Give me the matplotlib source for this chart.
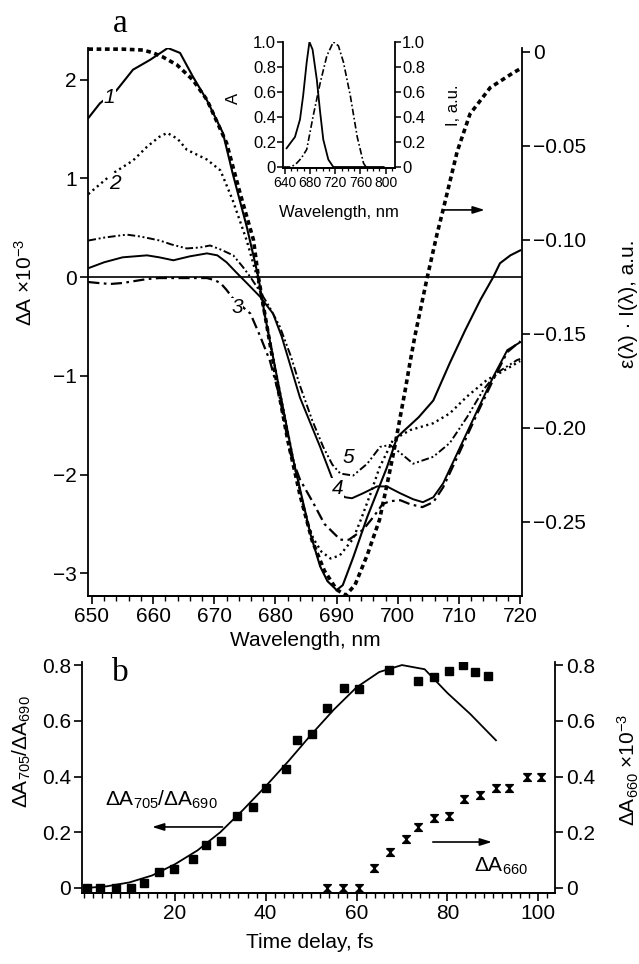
import matplotlib
matplotlib.use("Agg")
import matplotlib.pyplot as plt  # noqa: E402
from matplotlib.ticker import MultipleLocator, FixedLocator, FuncFormatter  # noqa: E402

W, H = 639, 964

# ──────────────── panel a: ΔA spectra (×10^-3), curves 1..5 ────────────────
WL1 = [649.4, 651.3, 654, 656.7, 659.5, 662.4, 664.4, 666.5, 668.8, 671.4, 673, 675.3,
       677.2, 678.3, 680.2, 682.9, 685.7, 687.3, 688.5, 690, 691, 692.7, 695, 698.2,
       699.9, 703.4, 705.8, 708.5, 711, 713.5, 715.6, 716.7, 718.4, 720]
DA1 = [1.61, 1.76, 1.89, 2.1, 2.2, 2.32, 2.27, 2.03, 1.79, 1.46, 1.05, 0.51,
       0, -0.4, -1.0, -1.85, -2.6, -2.93, -3.08, -3.17, -3.12, -2.84, -2.43, -1.93,
       -1.62, -1.42, -1.25, -0.87, -0.54, -0.23, 0, 0.14, 0.22, 0.27]

WL2 = [649.4, 651.5, 653.4, 656.7, 659, 661, 662.3, 664, 665.5, 668.8, 671, 673, 675.3,
       677, 678.3, 680.2, 682.9, 685, 686.2, 687.5, 689, 690.5, 692.7, 694, 695.5, 697,
       699.2, 702, 705.8, 708.5, 711.3, 714.6, 716.7, 720]
DA2 = [0.84, 0.95, 1.05, 1.18, 1.32, 1.42, 1.46, 1.4, 1.29, 1.19, 1.08, 0.78, 0.37,
       0, -0.4, -1.0, -1.85, -2.45, -2.65, -2.78, -2.85, -2.82, -2.65, -2.45, -2.2, -1.93,
       -1.65, -1.55, -1.48, -1.38, -1.21, -1.04, -0.97, -0.85]

WL3 = [649.4, 651, 653, 655, 657, 659, 661, 665, 668.8, 670, 671, 672, 673.1, 675.9,
       677.5, 679.1, 680.7, 682.4, 684, 686.2, 688, 690.6, 692, 694.3, 696, 697.5, 698.7,
       700.4, 702, 704, 705.8, 707.4, 710.2, 713, 715.6, 717.9, 720]
DA3 = [-0.05, -0.06, -0.07, -0.06, -0.04, -0.02, -0.01, -0.01, -0.01, -0.03, -0.06, -0.13,
       -0.22, -0.37, -0.6, -0.85, -1.22, -1.78, -2.05, -2.29, -2.5, -2.66, -2.66, -2.56,
       -2.43, -2.3, -2.27, -2.26, -2.3, -2.33, -2.28, -2.13, -1.76, -1.38, -1.04, -0.76, -0.65]

WL4 = [649.4, 652, 655, 659, 661, 663.3, 666, 668.8, 670.5, 672, 673.7, 675.3, 677.5,
       679.6, 681, 684, 687.3, 689.4, 690.6, 691.4, 692.5, 694.3, 696.6, 698.2, 700.4,
       702.5, 704.1, 705.8, 707.4, 710.2, 713, 715.6, 717.9, 720]
DA4 = [0.09, 0.15, 0.2, 0.22, 0.2, 0.17, 0.21, 0.24, 0.22, 0.15, 0.04, -0.06, -0.2,
       -0.37, -0.6, -1.22, -1.72, -2.06, -2.2, -2.23, -2.24, -2.19, -2.12, -2.12, -2.19,
       -2.25, -2.28, -2.23, -2.09, -1.72, -1.35, -1.01, -0.74, -0.66]

WL5 = [649.4, 652, 655.7, 658, 661.1, 663, 665.5, 667.7, 669.3, 671, 673.1, 674.7, 675.9,
       677.5, 679, 680.7, 682.5, 684, 686, 687.8, 689.3, 690.6, 692.7, 695, 697.1, 698.7,
       700.4, 702.5, 705.8, 708.5, 711.3, 714, 716.2, 719.5, 720]
DA5 = [0.37, 0.4, 0.43, 0.41, 0.37, 0.33, 0.29, 0.3, 0.32, 0.28, 0.22, 0.1, 0,
       -0.15, -0.3, -0.5, -0.8, -1.1, -1.45, -1.72, -1.9, -1.99, -2.01, -1.89, -1.72, -1.7,
       -1.78, -1.89, -1.82, -1.68, -1.42, -1.14, -0.97, -0.84, -0.83]

# ε(λ)·I(λ), right axis (a.u.)
WL_EI = [649.4, 655, 658.4, 660, 661.6, 663.9, 666.5, 668.8, 672, 674.2, 676.4, 677.2,
         680, 682, 684, 686, 688, 690, 691.5, 693, 695, 697, 698.5, 699.5, 700.4, 701.2,
         702, 702.8, 704.8, 706.4, 707.4, 709.7, 711.8, 715.1, 718.9, 720]
EI = [0.0015, 0.0015, 0.001, -0.0005, -0.0027, -0.0069, -0.0149, -0.0255, -0.0484, -0.075,
      -0.1, -0.1197, -0.172, -0.2064, -0.2356, -0.26, -0.276, -0.286, -0.289, -0.2835,
      -0.2676, -0.2489, -0.226, -0.21, -0.194, -0.18, -0.165, -0.151, -0.12, -0.097,
      -0.084, -0.053, -0.033, -0.019, -0.011, -0.009]

# inset: absorption A and fluorescence I
INS_WL_A = [642.7, 650, 656, 664, 669, 674.7, 679, 684, 690.7, 696, 701, 709, 717, 740, 770, 797]
INS_A = [0.15, 0.2, 0.24, 0.38, 0.57, 0.84, 1.0, 0.94, 0.70, 0.44, 0.22, 0.06, 0.0, 0.0, 0.0, 0.0]
INS_WL_I = [638, 650, 658.7, 666, 674.7, 685, 696, 706.7, 717, 725, 733, 744, 755, 765, 769]
INS_I = [0, 0, 0.03, 0.07, 0.14, 0.41, 0.67, 0.89, 1.0, 0.97, 0.84, 0.57, 0.24, 0.03, 0]

# ──────────────── panel b: kinetics ────────────────
T_RATIO = [0.7, 3.5, 7, 10.4, 13.2, 16.6, 19.9, 24, 26.9, 30.2, 33.7, 37.1, 40, 44.4, 46.8,
           50.1, 53.6, 57.2, 60.5, 67.1, 73.5, 77, 80.4, 83.4, 86.1, 89]
RATIO = [0, 0, 0, 0, 0.018, 0.057, 0.068, 0.104, 0.154, 0.169, 0.258, 0.29, 0.359, 0.427,
         0.531, 0.552, 0.646, 0.717, 0.714, 0.782, 0.743, 0.757, 0.778, 0.8, 0.775, 0.761]
T_FIT = [0.5, 5, 10, 15, 20, 25, 30, 35, 40, 45, 50, 55, 60, 65, 70, 75, 80, 85, 90.7]
FIT = [0, 0.006, 0.02, 0.045, 0.085, 0.135, 0.2, 0.28, 0.365, 0.455, 0.55, 0.64, 0.72,
       0.775, 0.80, 0.785, 0.70, 0.625, 0.53]
T_660 = [53.6, 57, 60.5, 63.8, 67.3, 70.9, 73.5, 77, 80.4, 83.7, 87.2, 90.7, 93.6, 97.6, 100.7]
DA660 = [0, 0, 0, 0.07, 0.13, 0.175, 0.22, 0.25, 0.26, 0.32, 0.335, 0.36, 0.36, 0.40, 0.40]

plt.rcParams["font.family"] = ["Liberation Sans", "DejaVu Sans"]
plt.rcParams["mathtext.default"] = "regular"
plt.rcParams["axes.linewidth"] = 1.3


def box(l, t, r, b):
    """pixel box → figure fraction [left, bottom, width, height]"""
    return [l / W, 1 - b / H, (r - l) / W, (b - t) / H]


def ftext(px, py, s, **kw):
    fig.text(px / W, 1 - py / H, s, ha="center", va="center", **kw)


def fmt(dec):
    def f(v, _):
        if abs(v) < 1e-9:
            return "0"
        return f"{v:.{dec}f}".replace("-", "\u2212")
    return FuncFormatter(f)


def style_ticks(a, size=15):
    a.tick_params(which="major", direction="out", length=6, width=1.2, labelsize=size, pad=2)
    a.tick_params(which="minor", direction="out", length=3.5, width=1.0)


fig = plt.figure(figsize=(W / 100, H / 100), dpi=100)

# ──────────────── panel a ────────────────
ax = fig.add_axes(box(88, 48, 522, 596))
axr = ax.twinx()
ax.set_xlim(649.35, 720.3)
ax.set_ylim(-3.23, 2.32)
axr.set_ylim(-0.2894, 0.0021)
for s in ("top", "right"):
    ax.spines[s].set_visible(False)
for s in ("top", "left"):
    axr.spines[s].set_visible(False)

ax.axhline(0, color="k", lw=1.2)
ax.plot(WL1, DA1, "-", color="k", lw=1.5)
ax.plot(WL2, DA2, color="k", lw=1.7, ls=(0, (0.9, 1.5)))
ax.plot(WL3, DA3, color="k", lw=1.6, ls=(0, (5, 2, 1.2, 2)))
ax.plot(WL4, DA4, "-", color="k", lw=1.4)
ax.plot(WL5, DA5, color="k", lw=1.4, ls=(0, (4, 1.4, 1, 1.4, 1, 1.4)))
axr.plot(WL_EI, EI, color="k", lw=2.6, ls=(0, (1.3, 1.0)), clip_on=False)

lab_kw = dict(fontsize=15, style="italic", ha="center", va="center",
              bbox=dict(fc="white", ec="none", pad=0.5))
for x, y, s in [(652.9, 1.82, "1"), (653.8, 0.95, "2"), (673.7, -0.31, "3"),
                (690.2, -2.14, "4"), (691.9, -1.83, "5")]:
    ax.text(x, y, s, **lab_kw)

ax.annotate("", xy=(714.2, 0.68), xytext=(707.3, 0.68),
            arrowprops=dict(arrowstyle="-|>,head_length=0.7,head_width=0.22",
                            lw=1.2, color="k", shrinkA=0, shrinkB=0))

ax.xaxis.set_major_locator(MultipleLocator(10))
ax.xaxis.set_minor_locator(MultipleLocator(2))
ax.yaxis.set_major_locator(MultipleLocator(1))
ax.yaxis.set_major_formatter(fmt(0))
axr.yaxis.set_major_locator(FixedLocator([0, -0.05, -0.10, -0.15, -0.20, -0.25]))
axr.yaxis.set_major_formatter(fmt(2))
style_ticks(ax)
style_ticks(axr)

ftext(305, 641, "Wavelength, nm", fontsize=15)
ftext(25, 282, "\u0394A \u00d710$^{\u22123}$", fontsize=15, rotation=90)
ftext(628, 304, "\u03b5(\u03bb) \u00b7 I(\u03bb), a.u.", fontsize=15, rotation=90)
ftext(120, 24, "a", fontsize=24, family=["Liberation Serif", "DejaVu Serif"])

# inset
ins = fig.add_axes(box(283, 42, 395, 168))
ins_r = ins.twinx()
ins.set_xlim(637, 815)
ins.set_ylim(-0.008, 1.0)
ins_r.set_ylim(-0.008, 1.0)
for s in ("top", "right"):
    ins.spines[s].set_visible(False)
for s in ("top", "left"):
    ins_r.spines[s].set_visible(False)
ins.plot(INS_WL_A, INS_A, "-", color="k", lw=1.3)
ins.plot(INS_WL_I, INS_I, color="k", lw=1.2, ls=(0, (4, 1.5, 1, 1.5)))
ins.xaxis.set_major_locator(MultipleLocator(40))
ins.xaxis.set_minor_locator(MultipleLocator(10))
for a in (ins, ins_r):
    a.yaxis.set_major_locator(MultipleLocator(0.2))
    a.yaxis.set_major_formatter(fmt(1))
    a.tick_params(which="major", direction="out", length=4, width=1.1, labelsize=12, pad=1)
    a.tick_params(which="minor", direction="out", length=2.5, width=0.9)
ins.tick_params(axis="x", labelsize=10, pad=2)
ftext(339, 213, "Wavelength, nm", fontsize=12)
ftext(233, 98, "A", fontsize=12, rotation=90)
ftext(453, 105, "I, a.u.", fontsize=12, rotation=90)

# ──────────────── panel b ────────────────
bx = fig.add_axes(box(82, 662, 555, 893))
bxr = bx.twinx()
bx.set_xlim(-0.44, 103.7)
bx.set_ylim(-0.018, 0.811)
bxr.set_ylim(-0.018, 0.811)
for s in ("top", "right"):
    bx.spines[s].set_visible(False)
for s in ("top", "left"):
    bxr.spines[s].set_visible(False)

bx.plot(T_FIT, FIT, "-", color="k", lw=1.3)
bx.plot(T_RATIO, RATIO, "s", color="k", ms=5.8, ls="none")
hourglass = [(-1, 1), (1, 1), (-1, -1), (1, -1), (-1, 1)]
bxr.plot(T_660, DA660, marker=hourglass, color="k", ms=5.6, ls="none")

bx.annotate("", xy=(15.0, 0.219), xytext=(30.5, 0.219),
            arrowprops=dict(arrowstyle="-|>,head_length=0.7,head_width=0.22",
                            lw=1.2, color="k", shrinkA=0, shrinkB=0))
bxr.annotate("", xy=(89.8, 0.165), xytext=(76.8, 0.165),
             arrowprops=dict(arrowstyle="-|>,head_length=0.7,head_width=0.22",
                             lw=1.2, color="k", shrinkA=0, shrinkB=0))
bx.text(4.6, 0.316, "\u0394A$_{705}$/\u0394A$_{690}$", fontsize=15, ha="left", va="center")
bxr.text(85.9, 0.079, "\u0394A$_{660}$", fontsize=15, ha="left", va="center")

bx.xaxis.set_major_locator(FixedLocator([20, 40, 60, 80, 100]))
bx.xaxis.set_minor_locator(MultipleLocator(2))
for a in (bx, bxr):
    a.yaxis.set_major_locator(MultipleLocator(0.2))
    a.yaxis.set_major_formatter(fmt(1))
    style_ticks(a)

ftext(310, 943, "Time delay, fs", fontsize=15)
ftext(22, 752, "\u0394A$_{705}$/\u0394A$_{690}$", fontsize=15, rotation=90)
ftext(628, 770, "\u0394A$_{660}$ \u00d710$^{\u22123}$", fontsize=15, rotation=90)
ftext(120, 673, "b", fontsize=24, family=["Liberation Serif", "DejaVu Serif"])

fig.savefig("out.png", dpi=100)
